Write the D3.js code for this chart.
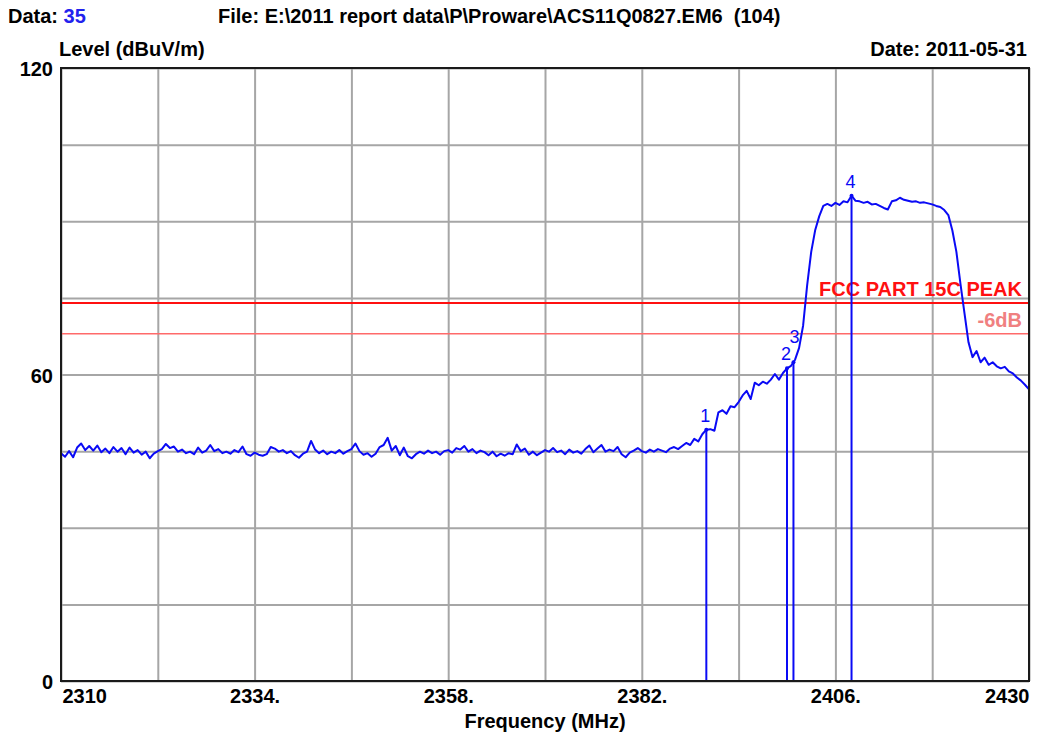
<!DOCTYPE html>
<html>
<head>
<meta charset="utf-8">
<script src="https://cdn.jsdelivr.net/npm/d3@7"></script>
<style>
  html, body { margin: 0; padding: 0; background: #ffffff; }
  svg { display: block; }
  text { font-family: "Liberation Sans", Arial, sans-serif; }
</style>
</head>
<body>
<svg id="chart" width="1047" height="735"></svg>
<script>
// ---- Sweep settings -------------------------------------------------------
const freqStart = 2310;   // MHz, first sample
const freqStep = 0.5;     // MHz between samples

// Measured level (dBuV/m), one row of 6 samples = 3 MHz
const levels = [
  // 2310 - 2321.5
  44.6, 43.9, 45.0, 43.8, 45.7, 46.5,
  45.2, 46.0, 45.1, 46.1, 44.8, 45.5,
  44.6, 45.8, 44.9, 45.6, 44.4, 45.7,
  44.7, 45.2, 44.3, 44.9, 43.6, 44.5,
  // 2322 - 2333.5
  45.0, 45.4, 46.4, 45.6, 45.9, 44.9,
  45.3, 44.6, 44.9, 44.4, 45.7, 44.7,
  45.1, 46.2, 45.0, 45.4, 44.6, 44.9,
  44.5, 45.2, 44.8, 45.9, 44.4, 44.1,
  // 2334 - 2345.5
  44.7, 44.3, 44.1, 44.4, 45.8, 45.5,
  44.9, 45.2, 44.6, 45.0, 44.2, 43.7,
  44.5, 44.9, 47.0, 45.3, 44.6, 45.1,
  44.4, 44.9, 44.6, 45.2, 44.5, 45.0,
  // 2346 - 2357.5
  45.4, 46.5, 45.0, 44.3, 44.6, 43.9,
  44.5, 45.8, 46.2, 47.6, 45.1, 46.0,
  44.2, 45.7, 44.0, 43.6, 44.4, 44.9,
  44.5, 45.1, 44.6, 44.9, 44.3, 45.0,
  // 2358 - 2369.5
  45.2, 44.7, 45.6, 45.3, 46.0, 44.9,
  45.4, 44.6, 45.1, 44.8, 44.2, 44.9,
  44.0, 44.5, 44.1, 44.6, 44.4, 46.3,
  45.0, 45.5, 44.3, 44.9, 44.2, 44.7,
  // 2370 - 2381.5
  45.2, 44.9, 45.6, 44.8, 45.1, 44.4,
  45.3, 44.7, 45.0, 44.5, 45.4, 46.1,
  44.8, 45.5, 46.2, 44.9, 45.3, 45.0,
  45.8, 44.4, 43.8, 44.7, 45.1, 45.6,
  // 2382 - 2393.5
  45.0, 44.7, 45.3, 44.9, 45.4, 45.1,
  44.8, 45.5, 45.8, 45.4, 46.0, 46.6,
  46.2, 47.4, 46.9, 48.3, 49.2, 49.3,
  49.0, 52.6, 53.0, 52.3, 53.8, 53.6,
  // 2394 - 2405.5
  54.6, 55.9, 56.8, 55.2, 58.4, 57.9,
  58.6, 58.2, 59.0, 60.1, 59.0, 60.3,
  61.2, 61.7, 62.9, 65.2, 69.6, 77.5,
  84.0, 88.3, 91.0, 93.0, 93.4, 93.0,
  // 2406 - 2417.5
  93.6, 93.2, 93.9, 93.7, 95.0, 94.0,
  93.9, 93.6, 93.8, 93.3, 93.4, 93.0,
  92.6, 92.3, 93.9, 94.1, 94.6, 94.2,
  94.0, 93.8, 93.9, 93.6, 93.7, 93.5,
  // 2418 - 2429.5
  93.3, 93.0, 92.8, 92.2, 91.2, 88.2,
  84.0, 77.8, 72.0, 66.3, 63.4, 64.6,
  62.4, 63.3, 61.9, 62.4, 61.6, 61.2,
  61.5, 60.6, 60.2, 59.4, 58.8, 58.0,
  // 2430
  57.1
];

// Markers
const markerLabels = ["1", "2", "3", "4"];
const markerFreqs = [2390, 2400, 2400.8, 2408];
const markerLevels = [49.2, 61.2, 62.4, 95.0];

// Limit lines
const limitLevels = [74, 68];
const limitLabels = ["FCC PART 15C PEAK", "-6dB"];

// Axes
const freqGrid = [2310, 2322, 2334, 2346, 2358, 2370, 2382, 2394, 2406, 2418, 2430];
const levelGrid = [0, 15, 30, 45, 60, 75, 90, 105, 120];
const freqTickValues = [2310, 2334, 2358, 2382, 2406, 2430];
const freqTickLabels = ["2310", "2334.", "2358.", "2382.", "2406.", "2430"];
const levelTickValues = [0, 60, 120];
const levelTickLabels = ["0", "60", "120"];

// ---- Drawing ---------------------------------------------------------------
const svg = d3.select("#chart");
const plot = { left: 61, right: 1029, top: 68, bottom: 681 };

const x = d3.scaleLinear().domain([2310, 2430]).range([plot.left, plot.right]);
const y = d3.scaleLinear().domain([0, 120]).range([plot.bottom, plot.top]);

const blue = "#0a0af5";
const font = 20;

// header
const hdr = svg.append("text").attr("x", 8).attr("y", 23)
  .attr("font-size", font).attr("font-weight", "bold");
hdr.append("tspan").attr("fill", "#000").text("Data: ");
hdr.append("tspan").attr("fill", "#2222ee").text("35");

svg.append("text").attr("x", 218).attr("y", 23)
  .attr("font-size", font).attr("font-weight", "bold")
  .style("white-space", "pre")
  .text("File: E:\\2011 report data\\P\\Proware\\ACS11Q0827.EM6  (104)");

svg.append("text").attr("x", 59).attr("y", 56)
  .attr("font-size", font).attr("font-weight", "bold")
  .text("Level (dBuV/m)");

svg.append("text").attr("x", 1027).attr("y", 56)
  .attr("text-anchor", "end")
  .attr("font-size", font).attr("font-weight", "bold")
  .text("Date: 2011-05-31");

// grid
const grid = svg.append("g");
grid.append("g")
  .attr("transform", `translate(0,${plot.bottom})`)
  .call(d3.axisBottom(x).tickValues(freqGrid)
    .tickSize(-(plot.bottom - plot.top)).tickFormat(""));
grid.append("g")
  .attr("transform", `translate(${plot.left},0)`)
  .call(d3.axisLeft(y).tickValues(levelGrid)
    .tickSize(-(plot.right - plot.left)).tickFormat(""));
grid.selectAll(".domain").remove();
grid.selectAll(".tick line").attr("stroke", "#a6a6a6").attr("stroke-width", 2);

// tick labels
const xa = svg.append("g")
  .attr("transform", `translate(0,${plot.bottom})`)
  .call(d3.axisBottom(x).tickValues(freqTickValues).tickSize(0).tickPadding(0)
    .tickFormat((d, i) => freqTickLabels[i]));
xa.select(".domain").remove();
xa.selectAll(".tick text")
  .attr("font-family", "Liberation Sans, Arial, sans-serif")
  .attr("font-size", font).attr("font-weight", "bold").attr("fill", "#000")
  .attr("dy", null).attr("y", 22)
  .attr("text-anchor", (d, i) => i === 0 ? "start" : (i === freqTickValues.length - 1 ? "end" : "middle"))
  .attr("x", (d, i) => i === 0 ? 1 : 0);

const ya = svg.append("g")
  .attr("transform", `translate(53,0)`)
  .call(d3.axisLeft(y).tickValues(levelTickValues).tickSize(0).tickPadding(0)
    .tickFormat((d, i) => levelTickLabels[i]));
ya.select(".domain").remove();
ya.selectAll(".tick text")
  .attr("font-family", "Liberation Sans, Arial, sans-serif")
  .attr("font-size", font).attr("font-weight", "bold").attr("fill", "#000")
  .attr("dy", "0.38em").attr("x", 0)
  .attr("text-anchor", "end");

svg.append("text").attr("x", 545).attr("y", 728)
  .attr("text-anchor", "middle")
  .attr("font-size", font).attr("font-weight", "bold")
  .text("Frequency (MHz)");

// limit lines
const limitColors = ["#ff1010", "#ff6a6a"];
const limitWidths = [2, 1.5];
const limitTextColors = ["#ff1010", "#f08080"];
limitLevels.forEach((v, i) => {
  svg.append("line")
    .attr("x1", plot.left).attr("x2", plot.right)
    .attr("y1", y(v)).attr("y2", y(v))
    .attr("stroke", limitColors[i]).attr("stroke-width", limitWidths[i]);
  svg.append("text")
    .attr("x", plot.right - 7).attr("y", y(v) - 7)
    .attr("text-anchor", "end")
    .attr("font-size", font).attr("font-weight", "bold")
    .attr("fill", limitTextColors[i])
    .text(limitLabels[i]);
});

// trace
const trace = levels.map((v, i) => [freqStart + i * freqStep, v]);
svg.append("path")
  .datum(trace)
  .attr("fill", "none")
  .attr("stroke", blue)
  .attr("stroke-width", 2)
  .attr("stroke-linejoin", "round")
  .attr("d", d3.line().x(d => x(d[0])).y(d => y(d[1])));

// markers: vertical line from the baseline up to the marked level, number above
let prevX = -100, prevY = 0;
markerFreqs.forEach((f, i) => {
  const mx = x(f), my = y(markerLevels[i]);
  svg.append("line")
    .attr("x1", mx).attr("x2", mx)
    .attr("y1", plot.bottom).attr("y2", my)
    .attr("stroke", blue).attr("stroke-width", 2);
  svg.append("circle").attr("cx", mx).attr("cy", my).attr("r", 2).attr("fill", blue);
  let ly = my - 8, lx = mx - 1;
  // numbers of close markers are stacked so that they stay readable
  if (Math.abs(mx - prevX) < 12 && ly > prevY - 17) { ly = prevY - 17; lx = mx + 1; }
  svg.append("text")
    .attr("x", lx).attr("y", ly)
    .attr("text-anchor", "middle")
    .attr("font-size", 18)
    .attr("fill", blue)
    .text(markerLabels[i]);
  prevX = mx; prevY = ly;
});

// plot frame
svg.append("rect")
  .attr("x", plot.left).attr("y", plot.top)
  .attr("width", plot.right - plot.left).attr("height", plot.bottom - plot.top)
  .attr("fill", "none").attr("stroke", "#1a1a1a").attr("stroke-width", 2);
</script>
</body>
</html>
